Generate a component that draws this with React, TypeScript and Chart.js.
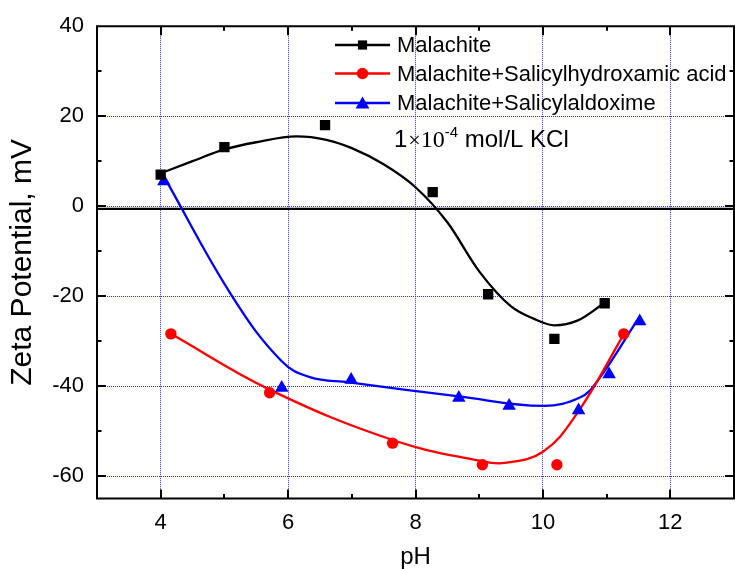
import { useEffect, useRef } from 'react';
import { Chart, registerables } from 'chart.js';

Chart.register(...registerables);

// Measured zeta potentials (mV) versus pH
const malachitePH = [4.0, 5.0, 6.58, 8.27, 9.14, 10.18, 10.97];
const malachiteZeta = [7.0, 13.1, 18.0, 3.1, -19.6, -29.5, -21.6];

const shaPH = [4.16, 5.71, 7.64, 9.05, 10.22, 11.27];
const shaZeta = [-28.4, -41.5, -52.7, -57.5, -57.5, -28.4];

const saoPH = [4.05, 5.9, 6.99, 8.68, 9.47, 10.56, 11.04, 11.52];
const saoZeta = [5.5, -40.4, -38.6, -42.6, -44.4, -45.4, -37.4, -25.6];

// Smoothed fit curves through the measurements
const malachiteFitPH = [4.0, 4.5, 5.0, 5.5, 6.13, 6.6, 7.0, 7.5, 8.0, 8.5, 9.0, 9.5, 9.85, 10.18, 10.55, 10.92];
const malachiteFitZeta = [7.3, 10.0, 12.6, 14.2, 15.5, 14.75, 12.9, 9.3, 4.2, -3.6, -14.5, -22.3, -25.0, -26.5, -25.4, -22.0];

const shaFitPH = [4.16, 5.71, 7.64, 9.0, 9.4, 10.0, 10.54, 11.27];
const shaFitZeta = [-28.4, -40.8, -52.0, -56.6, -57.1, -54.6, -46.0, -28.5];

const saoFitPH = [4.05, 5.12, 5.9, 6.34, 6.96, 8.68, 10.0, 10.59, 10.86, 11.48];
const saoFitZeta = [6.6, -20.0, -34.5, -38.0, -39.2, -42.3, -44.4, -42.5, -38.8, -25.4];

// Horizontal reference line near zero
const baselinePH = [3, 13];
const baselineZeta = [-0.6, -0.6];

const seriesLabels = ['Malachite', 'Malachite+Salicylhydroxamic acid', 'Malachite+Salicylaldoxime'];
const seriesColors = ['#000000', '#ff0000', '#0000ff'];
const seriesMarkers = ['rect', 'circle', 'triangle'];

const xTickValues = [3, 4, 5, 6, 7, 8, 9, 10, 11, 12, 13];
const yTickValues = [-60, -50, -40, -30, -20, -10, 0, 10, 20, 30, 40];

const SANS = 'Arial, "Liberation Sans", Helvetica, sans-serif';
const SERIF = '"Times New Roman", "Liberation Serif", Times, serif';
const GRID_BLUE = '#2a2aff';

const toPoints = (xs: number[], ys: number[]) => xs.map((x, i) => ({ x, y: ys[i] }));

function drawMarker(ctx: CanvasRenderingContext2D, style: string, x: number, y: number, r: number, color: string) {
  ctx.save();
  ctx.fillStyle = color;
  ctx.beginPath();
  if (style === 'rect') {
    const s = Math.SQRT1_2 * r;
    ctx.rect(x - s, y - s, 2 * s, 2 * s);
  } else if (style === 'circle') {
    ctx.arc(x, y, r, 0, Math.PI * 2);
  } else {
    let a = 0;
    ctx.moveTo(x + Math.sin(a) * r, y - Math.cos(a) * r);
    a += (2 * Math.PI) / 3;
    ctx.lineTo(x + Math.sin(a) * r, y - Math.cos(a) * r);
    a += (2 * Math.PI) / 3;
    ctx.lineTo(x + Math.sin(a) * r, y - Math.cos(a) * r);
    ctx.closePath();
  }
  ctx.fill();
  ctx.restore();
}

// Frame with inward ticks on all four sides
const framePlugin = {
  id: 'frameTicks',
  afterDatasetsDraw(chart: any) {
    const { ctx, chartArea: a, scales } = chart;
    const xs = scales.x;
    const ys = scales.y;
    ctx.save();
    ctx.strokeStyle = '#000';
    ctx.lineWidth = 2;
    ctx.lineCap = 'square';
    ctx.beginPath();
    ctx.rect(a.left, a.top, a.right - a.left, a.bottom - a.top);
    ctx.stroke();
    ctx.lineCap = 'butt';
    for (const v of xTickValues) {
      if (v <= xs.min || v >= xs.max) continue;
      const px = Math.round(xs.getPixelForValue(v));
      const len = v % 2 === 0 ? 9 : 4.5;
      ctx.beginPath();
      ctx.moveTo(px, a.bottom);
      ctx.lineTo(px, a.bottom - len);
      ctx.moveTo(px, a.top);
      ctx.lineTo(px, a.top + len);
      ctx.stroke();
    }
    for (const v of yTickValues) {
      if (v <= ys.min || v >= ys.max) continue;
      const py = Math.round(ys.getPixelForValue(v));
      const len = v % 20 === 0 ? 9 : 4.5;
      ctx.beginPath();
      ctx.moveTo(a.left, py);
      ctx.lineTo(a.left + len, py);
      ctx.moveTo(a.right, py);
      ctx.lineTo(a.right - len, py);
      ctx.stroke();
    }
    ctx.restore();
  },
};

// Legend with line + marker samples, and the electrolyte note
const legendPlugin = {
  id: 'legendNote',
  afterDraw(chart: any) {
    const { ctx } = chart;
    ctx.save();
    const rows = [45, 73.5, 103];
    const radii = [6.5, 5.7, 8];
    seriesLabels.forEach((label, i) => {
      const y = rows[i];
      ctx.strokeStyle = seriesColors[i];
      ctx.lineWidth = 2.3;
      ctx.beginPath();
      ctx.moveTo(335, y);
      ctx.lineTo(390, y);
      ctx.stroke();
      drawMarker(ctx, seriesMarkers[i], 362.5, i === 2 ? y + 1.5 : y, radii[i], seriesColors[i]);
      ctx.fillStyle = '#000';
      ctx.font = `22px ${SANS}`;
      ctx.textBaseline = 'middle';
      ctx.textAlign = 'left';
      ctx.fillText(label, 397, y + 1);
    });

    // 1×10⁻⁴ mol/L KCl
    const base = 147;
    let x = 394;
    ctx.textBaseline = 'alphabetic';
    ctx.fillStyle = '#000';
    ctx.font = `24px ${SANS}`;
    ctx.fillText('1', x, base);
    x += ctx.measureText('1').width + 1;
    ctx.font = `22px ${SERIF}`;
    ctx.fillText('\u00d7', x, base);
    x += ctx.measureText('\u00d7').width;
    ctx.font = `24px ${SERIF}`;
    ctx.fillText('10', x, base);
    x += ctx.measureText('10').width;
    ctx.font = `15px ${SANS}`;
    ctx.fillText('-4', x, base - 10);
    x += ctx.measureText('-4').width;
    ctx.font = `24px ${SANS}`;
    ctx.fillText(' mol/L KCl', x, base);
    ctx.restore();
  },
};

const fitLine = (xs: number[], ys: number[], color: string, monotone = false) => ({
  data: toPoints(xs, ys),
  showLine: true,
  borderColor: color,
  borderWidth: 2.3,
  pointRadius: 0,
  tension: 0.4,
  cubicInterpolationMode: monotone ? 'monotone' : 'default',
  order: 1,
});

export default function App() {
  const ref = useRef<HTMLCanvasElement>(null);

  useEffect(() => {
    const canvas = ref.current;
    if (!canvas) return;

    const chart = new Chart(canvas, {
      type: 'scatter',
      data: {
        datasets: [
          {
            label: seriesLabels[0],
            data: toPoints(malachitePH, malachiteZeta),
            backgroundColor: seriesColors[0],
            borderColor: seriesColors[0],
            borderWidth: 0,
            pointStyle: 'rect',
            pointRadius: 7.3,
            order: 0,
          },
          {
            label: seriesLabels[1],
            data: toPoints(shaPH, shaZeta),
            backgroundColor: seriesColors[1],
            borderColor: seriesColors[1],
            borderWidth: 0,
            pointStyle: 'circle',
            pointRadius: 5.7,
            order: 0,
          },
          {
            label: seriesLabels[2],
            data: toPoints(saoPH, saoZeta),
            backgroundColor: seriesColors[2],
            borderColor: seriesColors[2],
            borderWidth: 0,
            pointStyle: 'triangle',
            pointRadius: 7.8,
            order: 0,
          },
          { label: 'fit-malachite', ...fitLine(malachiteFitPH, malachiteFitZeta, seriesColors[0], true) },
          { label: 'fit-sha', ...fitLine(shaFitPH, shaFitZeta, seriesColors[1]) },
          { label: 'fit-sao', ...fitLine(saoFitPH, saoFitZeta, seriesColors[2]) },
          {
            label: 'baseline',
            data: toPoints(baselinePH, baselineZeta),
            showLine: true,
            borderColor: '#000',
            borderWidth: 2.3,
            pointRadius: 0,
            order: 2,
          },
        ],
      },
      options: {
        responsive: false,
        animation: false,
        devicePixelRatio: 1,
        layout: { padding: { top: 24, right: 6.3, left: 0, bottom: 0 } },
        plugins: {
          legend: { display: false },
          tooltip: { enabled: false },
        },
        scales: {
          x: {
            type: 'linear',
            min: 3,
            max: 13,
            afterBuildTicks: (s: any) => {
              s.ticks = xTickValues.map((value) => ({ value }));
            },
            afterFit: (s: any) => {
              s.height = 70.5;
            },
            grid: {
              drawTicks: false,
              lineWidth: 1,
              color: (c: any) => {
                const v = c.tick?.value;
                return v % 2 === 0 && v > 3 && v < 13 ? GRID_BLUE : 'rgba(0,0,0,0)';
              },
            },
            border: { display: false, dash: [1, 1] },
            ticks: {
              autoSkip: false,
              maxRotation: 0,
              padding: 11,
              color: '#000',
              font: { family: SANS, size: 22 },
              callback: (v: any) => (v % 2 === 0 && v > 3 && v < 13 ? String(v) : ''),
            },
            title: {
              display: true,
              text: 'pH',
              color: '#000',
              font: { family: SANS, size: 24, lineHeight: 1 },
              padding: { top: 0, bottom: 0 },
            },
          },
          y: {
            type: 'linear',
            min: -65,
            max: 40,
            afterBuildTicks: (s: any) => {
              s.ticks = yTickValues.map((value) => ({ value }));
            },
            afterFit: (s: any) => {
              s.width = 97;
            },
            grid: {
              drawTicks: false,
              lineWidth: 1,
              color: (c: any) => {
                const v = c.tick?.value;
                return v % 20 === 0 && v < 40 ? GRID_BLUE : 'rgba(0,0,0,0)';
              },
            },
            border: { display: false, dash: [1, 1] },
            ticks: {
              autoSkip: false,
              padding: 13,
              color: '#000',
              font: { family: SANS, size: 22 },
              callback: (v: any) => (v % 20 === 0 ? String(v) : ''),
            },
            title: {
              display: true,
              text: 'Zeta Potential, mV',
              color: '#000',
              font: { family: SANS, size: 30, lineHeight: 1 },
              padding: { top: 8, bottom: 0 },
            },
          },
        },
      },
      plugins: [framePlugin, legendPlugin],
    } as any);

    return () => chart.destroy();
  }, []);

  return (
    <canvas
      ref={ref}
      width={745}
      height={569}
      style={{ position: 'fixed', left: 0, top: 0, display: 'block' }}
    />
  );
}
